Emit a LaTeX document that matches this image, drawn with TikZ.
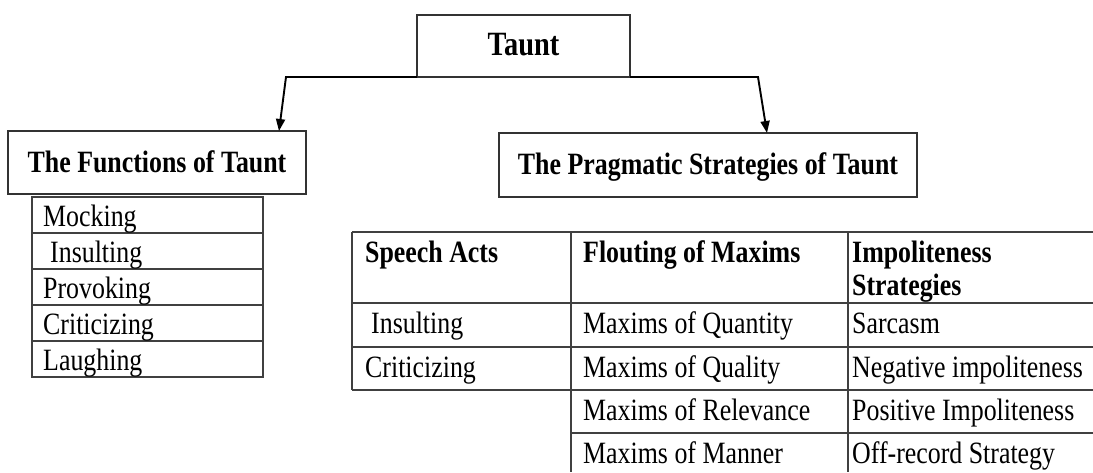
\documentclass[tikz,border=0pt]{standalone}
\usepackage{fontspec}
\setmainfont{Liberation Serif}[FakeStretch=0.835]
\usetikzlibrary{arrows.meta}
\begin{document}
\fontsize{31}{36}\selectfont
\begin{tikzpicture}[x=1pt,y=-1pt,
  box/.style={draw=black!80, line width=1.2pt, inner sep=0pt, outer sep=0pt,
    font=\bfseries, text height=0.68em, text depth=0.05em},
  gridline/.style={draw=black!75, line width=1.1pt},
  conn/.style={line width=1.9pt, -{Triangle[length=12pt,width=9pt]}},
  cell/.style={anchor=base west, inner sep=0pt},
  bcell/.style={cell, font=\bfseries}]
\useasboundingbox (0,0) rectangle (1093,472);
% top boxes
\node[box, font=\fontsize{34}{40}\selectfont\bfseries, minimum width=213pt, minimum height=62pt] (taunt) at (523.5,46) {Taunt};
\node[box, minimum width=298pt, minimum height=63pt] (func) at (157,162.5) {The Functions of Taunt};
\node[box, minimum width=418pt, minimum height=64pt] (prag) at (708,165) {The Pragmatic Strategies of Taunt};
% connectors
\coordinate (lb) at (286,77);
\coordinate (lt) at (279,131);
\coordinate (rb) at (758,77);
\coordinate (rt) at (767,133);
\draw[conn] (taunt.south west) -- (lb) -- (lt);
\draw[conn] (taunt.south east) -- (rb) -- (rt);
% functions list
\draw[gridline] (32,197) rectangle (263,377);
\foreach \yy in {233,269,305,341} \draw[gridline] (32,\yy) -- (263,\yy);
\node[cell] (f1) at (43,226) {Mocking};
\node[cell] (f2) at (50,262) {Insulting};
\node[cell] (f3) at (43,298) {Provoking};
\node[cell] (f4) at (43,334) {Criticizing};
\node[cell] (f5) at (43,370) {Laughing};
% strategies table
\foreach \yy in {232,303,347,390} \draw[gridline] (352,\yy) -- (1093,\yy);
\draw[gridline] (571,433) -- (1093,433);
\draw[gridline] (352,232) -- (352,390);
\draw[gridline] (571,232) -- (571,472);
\draw[gridline] (848,232) -- (848,472);
\node[bcell] (h1) at (365,262) {Speech Acts};
\node[bcell] (h2) at (583,262) {Flouting of Maxims};
\node[bcell] (h3a) at (852,262) {Impoliteness};
\node[bcell] (h3b) at (852,295) {Strategies};
\node[cell] (s1) at (371,333) {Insulting};
\node[cell] (s2) at (365,377) {Criticizing};
\node[cell] (m1) at (583,333) {Maxims of Quantity};
\node[cell] (m2) at (583,377) {Maxims of Quality};
\node[cell] (m3) at (583,420) {Maxims of Relevance};
\node[cell] (m4) at (583,463) {Maxims of Manner};
\node[cell] (i1) at (852,333) {Sarcasm};
\node[cell] (i2) at (852,377) {Negative impoliteness};
\node[cell] (i3) at (852,420) {Positive Impoliteness};
\node[cell] (i4) at (852,463) {Off-record Strategy};
\end{tikzpicture}
\end{document}
